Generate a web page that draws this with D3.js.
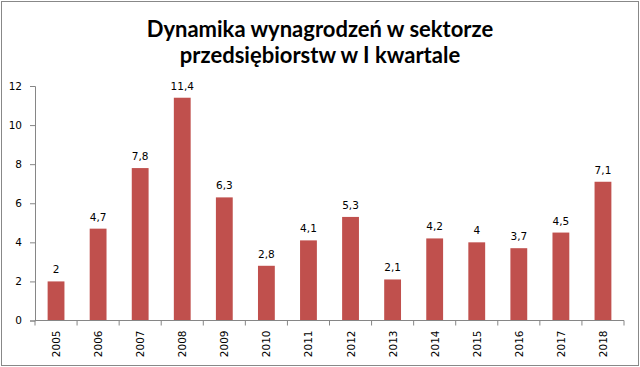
<!DOCTYPE html>
<html>
<head>
<meta charset="utf-8">
<script src="https://cdn.jsdelivr.net/npm/d3@7"></script>
<style>
  body { margin: 0; background: #fff; }
  svg { display: block; }
</style>
</head>
<body>
<div id="chart"></div>
<script>
const years = ["2005", "2006", "2007", "2008", "2009", "2010", "2011", "2012", "2013", "2014", "2015", "2016", "2017", "2018"];
const values = [2, 4.7, 7.8, 11.4, 6.3, 2.8, 4.1, 5.3, 2.1, 4.2, 4, 3.7, 4.5, 7.1];
const yTicks = [0, 2, 4, 6, 8, 10, 12];
const titleLines = ["Dynamika wynagrodzeń w sektorze", "przedsiębiorstw w I kwartale"];

const width = 640, height = 367;
const margin = { top: 86, right: 16, bottom: 46.5, left: 35 };

const svg = d3.select("#chart").append("svg")
  .attr("width", width)
  .attr("height", height);

// outer frame
svg.append("rect")
  .attr("x", 1.5).attr("y", 1.5)
  .attr("width", width - 3).attr("height", height - 3)
  .attr("fill", "#fff")
  .attr("stroke", "#888").attr("stroke-width", 1);

svg.append("g")
  .selectAll("text")
  .data(titleLines)
  .enter()
  .append("text")
  .attr("x", 320)
  .attr("y", (d, i) => 37 + i * 26)
  .attr("text-anchor", "middle")
  .attr("font-family", "Lato, 'Open Sans', sans-serif")
  .attr("font-weight", "bold")
  .attr("font-size", 22)
  .attr("fill", "#000")
  .text(d => d);

const x = d3.scaleBand()
  .domain(years)
  .range([margin.left, width - margin.right])
  .paddingInner(0.6)
  .paddingOuter(0.3);

const y = d3.scaleLinear()
  .domain([0, 12])
  .range([height - margin.bottom, margin.top]);

const font = "'DejaVu Sans', Verdana, sans-serif";

// bars
svg.append("g")
  .selectAll("rect")
  .data(values)
  .enter()
  .append("rect")
  .attr("x", (d, i) => x(years[i]))
  .attr("y", d => y(d))
  .attr("width", x.bandwidth())
  .attr("height", d => y(0) - y(d))
  .attr("fill", "#C0504D");

// data labels
svg.append("g")
  .selectAll("text")
  .data(values)
  .enter()
  .append("text")
  .attr("x", (d, i) => x(years[i]) + x.bandwidth() / 2)
  .attr("y", d => y(d) - 8)
  .attr("text-anchor", "middle")
  .attr("font-family", font)
  .attr("font-size", 10.5)
  .attr("fill", "#000")
  .text(d => String(d).replace(".", ","));

// y axis
const yAxis = svg.append("g")
  .attr("transform", `translate(${margin.left},0)`)
  .call(d3.axisLeft(y).tickValues(yTicks).tickSize(5).tickPadding(8));
yAxis.selectAll("text").attr("font-family", font).attr("font-size", 10.5).attr("fill", "#000");

// x axis with ticks between categories
const x0 = margin.left;
const xAxis = svg.append("g").attr("transform", `translate(0,${y(0)})`);
xAxis.append("line")
  .attr("x1", x0).attr("x2", width - margin.right)
  .attr("stroke", "#868686");
xAxis.selectAll(".tk")
  .data(d3.range(years.length + 1))
  .enter()
  .append("line")
  .attr("x1", i => x0 + i * (width - margin.right - x0) / years.length)
  .attr("x2", i => x0 + i * (width - margin.right - x0) / years.length)
  .attr("y1", 0).attr("y2", 5)
  .attr("stroke", "#868686");
xAxis.selectAll(".lbl")
  .data(years)
  .enter()
  .append("text")
  .attr("transform", d => `translate(${x(d) + x.bandwidth() / 2 + 4},10) rotate(-90)`)
  .attr("text-anchor", "end")
  .attr("font-family", font)
  .attr("font-size", 10.5)
  .attr("fill", "#000")
  .text(d => d);

svg.selectAll(".domain, .tick line").attr("stroke", "#868686");
</script>
</body>
</html>
